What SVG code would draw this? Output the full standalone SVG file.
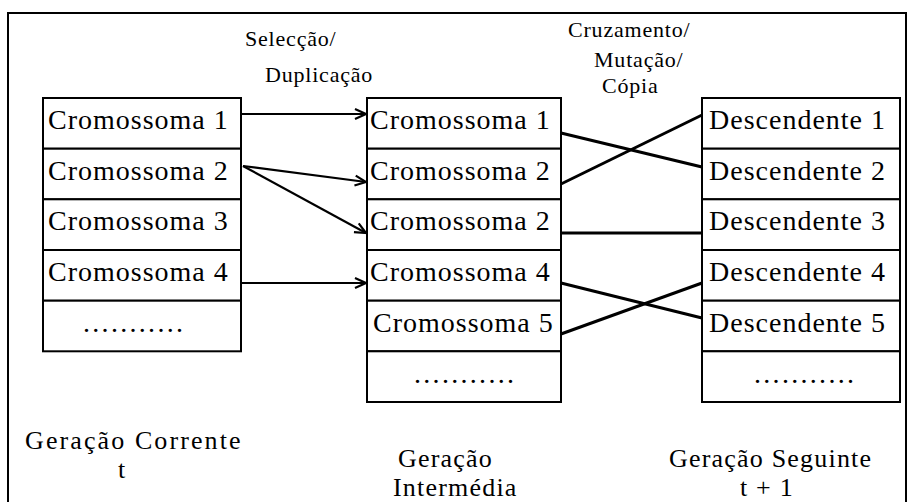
<svg xmlns="http://www.w3.org/2000/svg" width="908" height="502" viewBox="0 0 908 502">
  <style>
    text { font-family: "Liberation Serif", "DejaVu Serif", "Times New Roman", serif; fill: #000; }
    .cell { fill: #fff; stroke: #000; stroke-width: 2; }
    .item { font-size: 28px; letter-spacing: 1px; }
    .dots { font-size: 28px; letter-spacing: 2.3px; }
    .op { font-size: 22px; letter-spacing: 0.8px; }
    .gen { font-size: 26px; letter-spacing: 1.2px; }
    .arrow { fill: none; stroke: #000; stroke-width: 2.2; marker-end: url(#open); }
    .swap { fill: none; stroke: #000; stroke-width: 3; }
  </style>
  <defs>
    <marker id="open" markerUnits="userSpaceOnUse" markerWidth="14" markerHeight="14" viewBox="0 0 14 14" refX="13" refY="7" orient="auto">
      <path d="M2,2 L13,7 L2,12" fill="none" stroke="#000" stroke-width="2.2"/>
    </marker>
  </defs>

  <rect width="908" height="502" fill="#fff"/>
  <!-- outer frame (bottom edge runs off the page) -->
  <path d="M8,510 V13 H906 V510" fill="none" stroke="#000" stroke-width="2"/>

  <!-- current generation -->
  <g id="current">
    <rect class="cell" x="43" y="98" width="198" height="50.7"/>
    <rect class="cell" x="43" y="148.7" width="198" height="50.6"/>
    <rect class="cell" x="43" y="199.3" width="198" height="50.7"/>
    <rect class="cell" x="43" y="250" width="198" height="50.7"/>
    <rect class="cell" x="43" y="300.7" width="198" height="50.6"/>
    <text class="item" x="48" y="129">Cromossoma 1</text>
    <text class="item" x="48" y="180">Cromossoma 2</text>
    <text class="item" x="48" y="230">Cromossoma 3</text>
    <text class="item" x="48" y="281">Cromossoma 4</text>
    <text class="dots" x="83" y="332">...........</text>
  </g>

  <!-- intermediate generation -->
  <g id="intermediate">
    <rect class="cell" x="367" y="98" width="194" height="50.7"/>
    <rect class="cell" x="367" y="148.7" width="194" height="50.6"/>
    <rect class="cell" x="367" y="199.3" width="194" height="50.7"/>
    <rect class="cell" x="367" y="250" width="194" height="50.7"/>
    <rect class="cell" x="367" y="300.7" width="194" height="50.6"/>
    <rect class="cell" x="367" y="351.3" width="194" height="50.7"/>
    <text class="item" x="370" y="129">Cromossoma 1</text>
    <text class="item" x="370" y="180">Cromossoma 2</text>
    <text class="item" x="370" y="230">Cromossoma 2</text>
    <text class="item" x="370" y="281">Cromossoma 4</text>
    <text class="item" x="373" y="332">Cromossoma 5</text>
    <text class="dots" x="414" y="383">...........</text>
  </g>

  <!-- next generation -->
  <g id="next">
    <rect class="cell" x="702" y="98" width="198" height="50.7"/>
    <rect class="cell" x="702" y="148.7" width="198" height="50.6"/>
    <rect class="cell" x="702" y="199.3" width="198" height="50.7"/>
    <rect class="cell" x="702" y="250" width="198" height="50.7"/>
    <rect class="cell" x="702" y="300.7" width="198" height="50.6"/>
    <rect class="cell" x="702" y="351.3" width="198" height="50.7"/>
    <text class="item" x="709" y="129">Descendente 1</text>
    <text class="item" x="709" y="180">Descendente 2</text>
    <text class="item" x="709" y="230">Descendente 3</text>
    <text class="item" x="709" y="281">Descendente 4</text>
    <text class="item" x="709" y="332">Descendente 5</text>
    <text class="dots" x="754" y="383">...........</text>
  </g>

  <!-- connectors -->
  <g id="connectors">
    <line class="arrow" x1="241" y1="114" x2="366" y2="114"/>
    <line class="arrow" x1="243" y1="166" x2="366" y2="182"/>
    <line class="arrow" x1="243" y1="166" x2="366" y2="233"/>
    <line class="arrow" x1="241" y1="283" x2="366" y2="283"/>
    <line class="swap" x1="561" y1="133" x2="702" y2="167"/>
    <line class="swap" x1="561" y1="184" x2="702" y2="115"/>
    <line class="swap" x1="561" y1="233" x2="702" y2="233"/>
    <line class="swap" x1="561" y1="283" x2="702" y2="318"/>
    <line class="swap" x1="561" y1="334" x2="702" y2="283"/>
  </g>

  <!-- operation labels -->
  <g id="labels">
    <text class="op" x="245" y="46">Selecção/</text>
    <text class="op" x="265" y="82">Duplicação</text>
    <text class="op" x="568" y="37">Cruzamento/</text>
    <text class="op" x="594" y="67">Mutação/</text>
    <text class="op" x="602" y="93">Cópia</text>
  </g>

  <!-- generation captions -->
  <g id="captions">
    <text class="gen" x="25" y="449" style="letter-spacing:2.1px">Geração Corrente</text>
    <text class="gen" x="118" y="478">t</text>
    <text class="gen" x="398" y="467">Geração</text>
    <text class="gen" x="393" y="496">Intermédia</text>
    <text class="gen" x="669" y="467">Geração Seguinte</text>
    <text class="gen" x="740" y="496">t + 1</text>
  </g>
</svg>
